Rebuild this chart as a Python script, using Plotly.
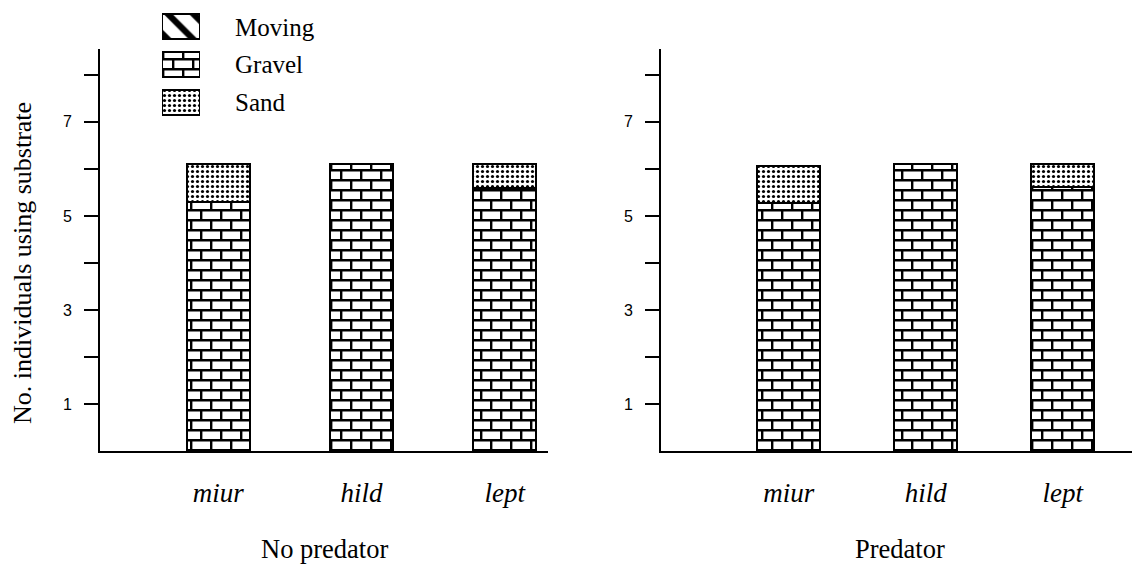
import plotly.graph_objects as go

# ---------------- data ----------------
species = ["miur", "hild", "lept"]
panel_titles = ["No predator", "Predator"]
gravel_no_pred = [5.3, 6.1, 5.6]
sand_no_pred = [0.8, 0.0, 0.5]
moving_no_pred = [0.0, 0.0, 0.0]
gravel_pred = [5.27, 6.1, 5.62]
sand_pred = [0.8, 0.0, 0.48]
moving_pred = [0.0, 0.0, 0.0]
legend_items = ["Moving", "Gravel", "Sand"]
legend_key = [1, 1, 1]
y_tickvals = [1, 2, 3, 4, 5, 6, 7, 8]
y_ticktext = ["1", "", "3", "", "5", "", "7", ""]
y_title = "No. individuals using substrate"

# ---------------- styles ----------------
PAGE_OFF = 8            # the page body margin offsets the figure
W, H = 1140 - PAGE_OFF, 564 - PAGE_OFF
SERIF = "Liberation Serif, Times New Roman, serif"
SANS = "Liberation Sans, Arial, sans-serif"
BRICK = ("M0,0H20V2.4H0Z M0,10H20V12.4H0Z "
         "M0,0H2.4V10H0Z M10,10H12.4V20H10Z")
patterns = {
    "Moving": dict(shape="\\", size=18, solidity=0.35, fgcolor="black", bgcolor="white", fillmode="replace"),
    "Gravel": dict(path=BRICK, size=20, solidity=0.5, fgcolor="black", bgcolor="white", fillmode="replace"),
    "Sand": dict(shape=".", size=5, solidity=0.32, fgcolor="black", bgcolor="white", fillmode="replace"),
}


def px_x(p):
    return min(1.0, max(0.0, (p - PAGE_OFF) / W))


def px_y(p):
    return min(1.0, max(0.0, (H - (p - PAGE_OFF)) / H))


fig = go.Figure()

panels = [
    dict(xa="x", ya="y", width=0.44,
         series={"Gravel": gravel_no_pred, "Sand": sand_no_pred, "Moving": moving_no_pred}),
    dict(xa="x2", ya="y2", width=0.46,
         series={"Gravel": gravel_pred, "Sand": sand_pred, "Moving": moving_pred}),
]
for p in panels:
    for name in ["Gravel", "Sand", "Moving"]:
        fig.add_trace(go.Bar(
            x=species, y=p["series"][name], name=name, width=p["width"],
            xaxis=p["xa"], yaxis=p["ya"], showlegend=False,
            marker=dict(color="white", pattern=patterns[name],
                        line=dict(color="black", width=2)),
        ))

# legend keys as bars on a small hidden axis
for name, v in zip(legend_items, legend_key):
    fig.add_trace(go.Bar(
        x=[v], y=[name], orientation="h", width=0.66, xaxis="x3", yaxis="y3",
        showlegend=False, name=name,
        marker=dict(color="white", pattern=patterns[name],
                    line=dict(color="black", width=2)),
    ))

yax_common = dict(
    range=[0, 8.55], tickvals=y_tickvals, ticktext=y_ticktext,
    showline=True, linewidth=2, linecolor="black",
    ticks="outside", ticklen=14, tickwidth=1.5, tickcolor="black",
    tickfont=dict(family=SANS, size=16, color="black"),
    ticklabelstandoff=9, showgrid=False, zeroline=False,
    domain=[px_y(451), px_y(49)],
)
xax_common = dict(
    type="category", showline=True, linewidth=1.5, linecolor="black",
    ticks="", showgrid=False, zeroline=False,
    tickfont=dict(family=SERIF, size=27, color="black", style="italic"),
    ticklabelstandoff=17,
)

fig.update_layout(
    width=W, height=H,
    margin=dict(l=0, r=0, t=0, b=0),
    paper_bgcolor="white", plot_bgcolor="white",
    barmode="stack", showlegend=False,
    xaxis=dict(**xax_common, domain=[px_x(100), px_x(548)], range=[-0.8255, 2.302], anchor="y"),
    yaxis=dict(**yax_common, anchor="x"),
    xaxis2=dict(**xax_common, domain=[px_x(661), px_x(1140)], range=[-0.933, 2.563], anchor="y2"),
    yaxis2=dict(**yax_common, anchor="x2"),
    xaxis3=dict(domain=[px_x(162), px_x(200)], range=[0, 1], visible=False, anchor="y3"),
    yaxis3=dict(domain=[px_y(121), px_y(8)], type="category", categoryarray=legend_items,
                autorange="reversed", side="right", anchor="x3",
                showline=False, ticks="", ticklen=0, showgrid=False, zeroline=False,
                tickfont=dict(family=SERIF, size=25, color="black"),
                ticklabelstandoff=34),
    annotations=[
        dict(text=y_title, x=px_x(22), y=px_y(263), xref="paper", yref="paper",
             textangle=-90, showarrow=False, xanchor="center", yanchor="middle",
             font=dict(family=SERIF, size=26, color="black")),
        dict(text=panel_titles[0], x=px_x(324), y=px_y(549), xref="paper", yref="paper",
             showarrow=False, xanchor="center", yanchor="middle",
             font=dict(family=SERIF, size=26.5, color="black")),
        dict(text=panel_titles[1], x=px_x(900), y=px_y(549), xref="paper", yref="paper",
             showarrow=False, xanchor="center", yanchor="middle",
             font=dict(family=SERIF, size=26.5, color="black")),
    ],
)

fig.write_html("out.html")
